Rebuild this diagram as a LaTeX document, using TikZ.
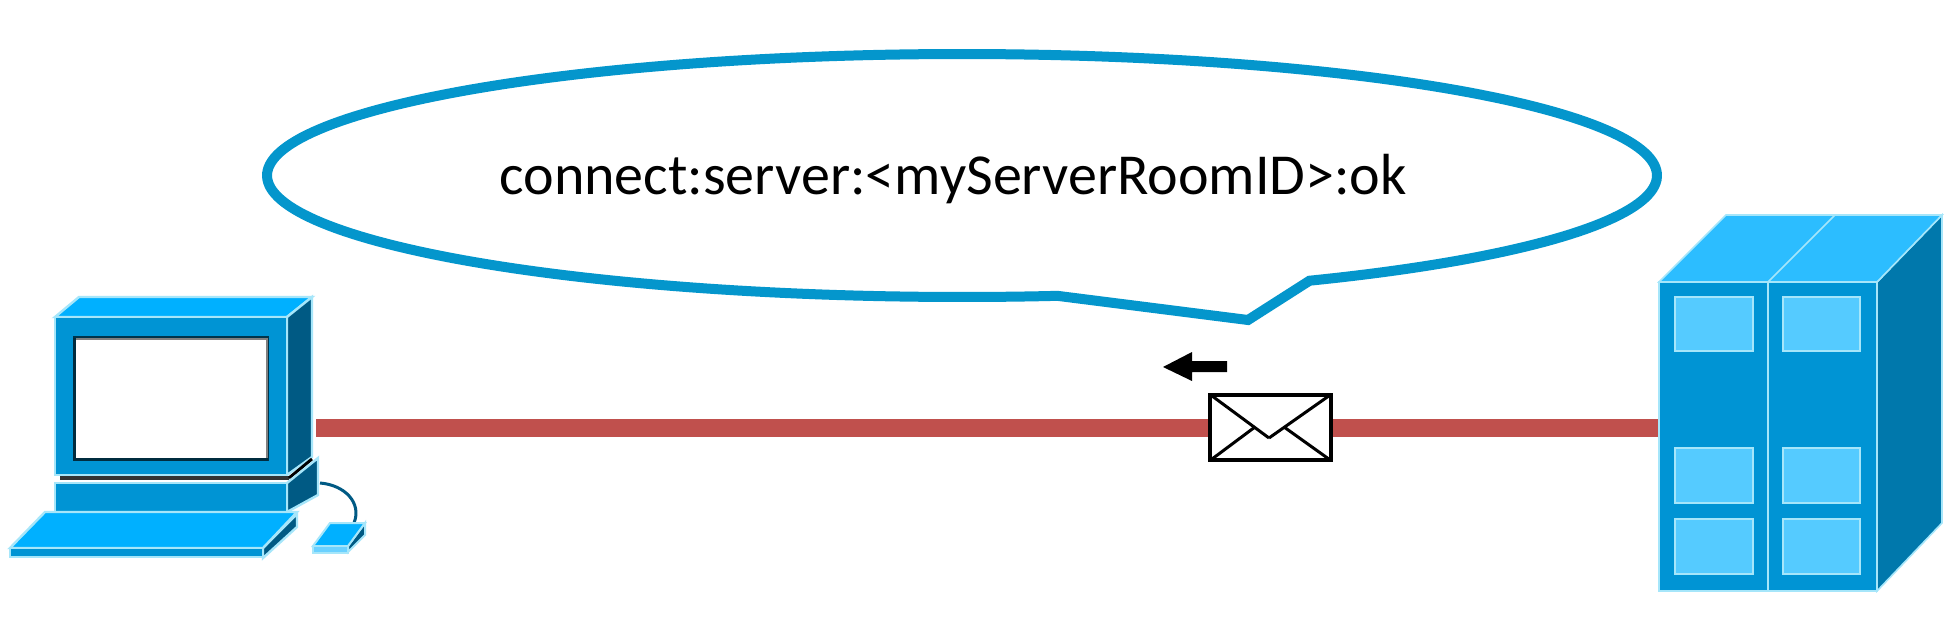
\documentclass[tikz,border=0pt]{standalone}
\usepackage{fontspec}
\setmainfont{Carlito}
\definecolor{callblue}{HTML}{0496CC}
\definecolor{wire}{HTML}{C0504D}
\definecolor{edge}{HTML}{A6E6FA}
\definecolor{front}{HTML}{0094D4}
\definecolor{topc}{HTML}{00B0FF}
\definecolor{sidec}{HTML}{005A84}
\definecolor{stop}{HTML}{2CBDFF}
\definecolor{sside}{HTML}{0078AC}
\definecolor{win}{HTML}{55CBFF}
\tikzset{
  facet/.style={draw=edge,line width=1.6pt,line join=miter},
  pc facet/.style={draw=edge,line width=2.4pt,line join=miter},
  thin facet/.style={draw=edge,line width=2pt},
  wire line/.style={draw=wire,line width=18pt},
  mail/.style={draw=black,line width=4pt,fill=white,minimum width=121pt,minimum height=65pt,inner sep=0pt},
  mail line/.style={draw=black,line width=3pt,shorten <=3pt},
  bubble/.style={draw=callblue,line width=10pt,fill=white,line join=miter},
}
\begin{document}
\begin{tikzpicture}[x=1pt,y=-1pt]
\useasboundingbox (0,0) rectangle (1950,620);
\fill[white] (0,0) rectangle (1950,620);
% speech bubble
\draw[bubble] plot[domain=82.1:420,samples=240] ({962+695*cos(\x)},{175.5+121.5*sin(\x)})
  -- (1248,320) -- cycle;
\node[font=\fontsize{58}{62}\selectfont,text=black,inner sep=0pt] (msg) at (953,179) {connect:server:<myServerRoomID>:ok};
% computer
\coordinate (pcport) at (316,428);
\draw[pc facet,fill=topc] (55,317) -- (79,297) -- (312,297) -- (287,317) -- cycle;
\draw[pc facet,fill=sidec] (287,317) -- (312,297) -- (312,457) -- (287,475) -- cycle;
\draw[pc facet,fill=front] (55,317) rectangle (287,475);
\fill[black!80] (60,476) rectangle (289,480);
\draw[black,line width=3pt] (289,478) -- (312,459);
\fill[black!65!front] (73,336) rectangle (269,461);
\fill[gray] (75,338) rectangle (268,460);
\fill[black!70!front] (73,338) rectangle (76,461);
\fill[black!70!front] (73,458) rectangle (268,461);
\fill[white] (76,340) rectangle (266,458);
\draw[pc facet,fill=sidec] (287,483) -- (318,458) -- (318,495) -- (287,512) -- cycle;
\draw[pc facet,fill=front] (55,483) rectangle (287,512);
\draw[draw=sidec,line width=3pt] (320,483) .. controls (345,485) and (362,503) .. (354,523);
\draw[pc facet,fill=sidec] (263,548) -- (297,514) -- (297,527) -- (263,558) -- cycle;
\draw[pc facet,fill=topc] (45,512) -- (297,512) -- (263,548) -- (10,548) -- cycle;
\draw[pc facet,fill=front] (10,548) rectangle (263,557);
\draw[thin facet,fill=sidec] (348,546) -- (365,523) -- (365,535) -- (348,552) -- cycle;
\draw[thin facet,fill=topc] (330,523) -- (365,523) -- (348,546) -- (313,546) -- cycle;
\draw[thin facet,fill=stop!70!white] (313,546) rectangle (348,553);
% server
\coordinate (srvport) at (1658,428);
\draw[facet,fill=sside] (1877,282) -- (1942,215) -- (1942,523) -- (1877,591) -- cycle;
\draw[facet,fill=stop] (1659,282) -- (1726,215) -- (1942,215) -- (1877,282) -- cycle;
\draw[facet] (1768,282) -- (1835,215);
\draw[facet,fill=front] (1659,282) rectangle (1877,591);
\draw[facet] (1768,282) -- (1768,591);
\foreach \xa/\xb in {1675/1753,1783/1860}
  \foreach \ya/\yb in {297/351,448/503,519/574}
    \draw[facet,fill=win] (\xa,\ya) rectangle (\xb,\yb);
% connection
\draw[wire line] (pcport) -- (srvport);
\node[mail] (env) at (1270.5,427.5) {};
\coordinate (flap) at (1269,438);
\draw[mail line,line join=miter] (env.north west) -- (flap);
\draw[mail line] (env.north east) -- (flap);
\coordinate (lowl) at (1255,427);
\coordinate (lowr) at (1284,427);
\draw[mail line] (env.south west) -- (lowl);
\draw[mail line] (env.south east) -- (lowr);
% direction arrow
\fill[black] (1163,367) -- (1192,352) -- (1192,361) -- (1227,361) -- (1227,372) -- (1192,372) -- (1192,381) -- cycle;
\end{tikzpicture}
\end{document}
